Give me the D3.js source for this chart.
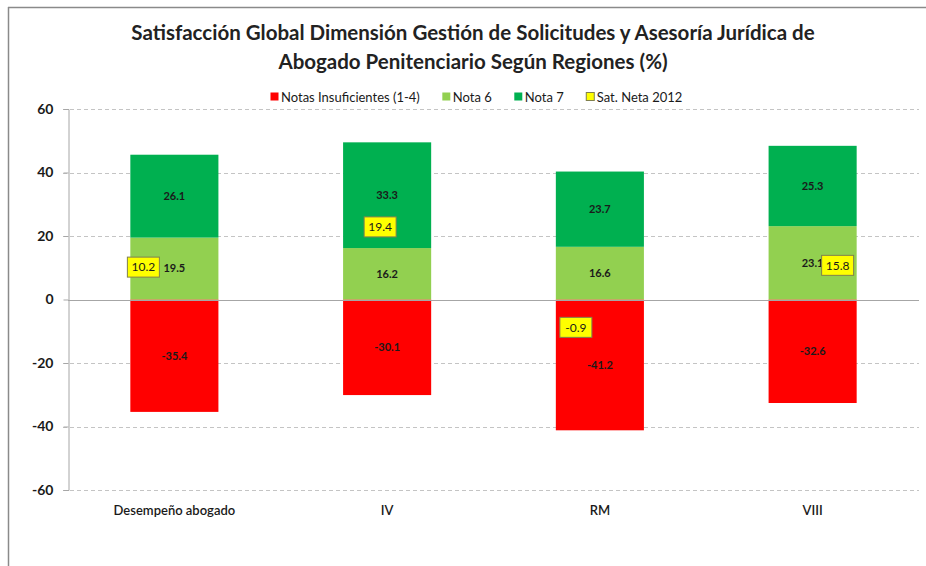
<!DOCTYPE html>
<html lang="es">
<head>
<meta charset="UTF-8">
<title>Satisfacción Global Dimensión Gestión de Solicitudes</title>
<script src="https://d3js.org/d3.v7.min.js"></script>
<style>
    body { margin: 0; background: #fff; }
    svg { display: block; font-family: Lato, "Open Sans", sans-serif; }
    .tick-y { font-size: 14px; font-weight: bold; fill: #1a1a1a; }
    .cat { font-size: 13px; font-weight: 600; fill: #1a1a1a; }
    .val { font-size: 11px; font-weight: bold; fill: #1a1a1a; }
    .legend text { font-size: 13px; fill: #1a1a1a; }
</style>
</head>
<body>
<svg id="chart" width="926" height="566"></svg>
<script>
    // data
    const categories = ["Desempeño abogado", "IV", "RM", "VIII"];
    const insuficientes = [-35.4, -30.1, -41.2, -32.6];
    const nota6 = [19.5, 16.2, 16.6, 23.1];
    const nota7 = [26.1, 33.3, 23.7, 25.3];
    const satNeta = [10.2, 19.4, -0.9, 15.8];
    const yTicks = [-60, -40, -20, 0, 20, 40, 60];

    // where each Sat. Neta label sits relative to its point (labels were moved by hand)
    const labelPlacement = ["left", "upLeft", "downLeft", "right"];
    const placeOffset = {
        left: [-31, 0], upLeft: [-7, -11], downLeft: [-24, 25], right: [25, 16]
    };

    const series = [
        { key: "ins", name: "Notas Insuficientes (1-4)", color: "#ff0000", values: insuficientes },
        { key: "n6", name: "Nota 6", color: "#92d050", values: nota6 },
        { key: "n7", name: "Nota 7", color: "#00b050", values: nota7 }
    ];

    // plain hyphen for negatives, like the original
    const fmt1 = v => d3.format(".1f")(v).replace("\u2212", "-");
    const fmt0 = v => d3.format("d")(v).replace("\u2212", "-");

    const svg = d3.select("#chart");

    // frame lines (top + left only visible)
    svg.append("line").attr("x1", 8).attr("x2", 926).attr("y1", 7.5).attr("y2", 7.5)
        .attr("stroke", "#8a8a8a").attr("stroke-width", 1.5);
    svg.append("line").attr("x1", 8.5).attr("x2", 8.5).attr("y1", 7).attr("y2", 566)
        .attr("stroke", "#8a8a8a").attr("stroke-width", 1.5);

    // title
    const titleLines = [
        "Satisfacción Global Dimensión Gestión de Solicitudes y Asesoría Jurídica de",
        "Abogado Penitenciario Según Regiones (%)"
    ];
    svg.append("g").selectAll("text").data(titleLines).join("text")
        .attr("x", 473).attr("y", (d, i) => 40 + i * 29).attr("text-anchor", "middle")
        .style("font-size", "20.5px").style("font-weight", "bold").attr("fill", "#222")
        .text(d => d);

    const x = d3.scaleBand().domain(categories).range([68, 919]).paddingInner(0.586).paddingOuter(0.293);
    const y = d3.scaleLinear().domain([-60, 60]).range([490, 109]);

    // gridlines
    svg.append("g").selectAll("line").data(yTicks.filter(t => t !== 0)).join("line")
        .attr("x1", 63).attr("x2", 919)
        .attr("y1", d => Math.round(y(d)) + 0.5).attr("y2", d => Math.round(y(d)) + 0.5)
        .attr("stroke", "#c4c4c4").attr("stroke-dasharray", "4,3");

    // y axis
    const yAxis = d3.axisLeft(y).tickValues(yTicks).tickSize(5).tickPadding(10).tickFormat(fmt0);
    const gy = svg.append("g").attr("transform", "translate(68.5,0)").call(yAxis);
    gy.select(".domain").attr("stroke", "#a6a6a6");
    gy.selectAll(".tick line").attr("stroke", "#a6a6a6");
    gy.selectAll(".tick text").attr("class", "tick-y").style("font-family", null).style("font-size", null);
    gy.attr("font-family", null).attr("font-size", null);

    // stacked bars
    const table = categories.map((c, i) => {
        const row = { cat: c };
        series.forEach(s => row[s.key] = s.values[i]);
        return row;
    });
    const stack = d3.stack().keys(series.map(s => s.key)).offset(d3.stackOffsetDiverging);
    const stacked = stack(table);

    const layers = svg.append("g").selectAll("g").data(stacked).join("g")
        .attr("fill", (d, i) => series[i].color);
    layers.selectAll("rect").data(d => d).join("rect")
        .attr("x", d => x(d.data.cat))
        .attr("width", x.bandwidth())
        .attr("y", d => y(Math.max(d[0], d[1])))
        .attr("height", d => Math.abs(y(d[0]) - y(d[1])));

    // zero line
    svg.append("line").attr("x1", 68).attr("x2", 919)
        .attr("y1", Math.round(y(0)) + 0.5).attr("y2", Math.round(y(0)) + 0.5)
        .attr("stroke", "#a6a6a6").attr("stroke-width", 1.2);

    // value labels inside segments
    const vals = svg.append("g");
    stacked.forEach((layer, i) => {
        vals.selectAll(null).data(layer).join("text")
            .attr("class", "val")
            .attr("x", d => x(d.data.cat) + x.bandwidth() / 2)
            .attr("y", d => y((d[0] + d[1]) / 2))
            .attr("dy", "0.35em")
            .attr("text-anchor", "middle")
            .text(d => fmt1(series[i].values[categories.indexOf(d.data.cat)]));
    });

    // Sat. Neta 2012 labels (no marker, only boxed label)
    const sat = svg.append("g").selectAll("g").data(satNeta).join("g")
        .attr("transform", (d, i) => {
            const off = placeOffset[labelPlacement[i]];
            return `translate(${x(categories[i]) + x.bandwidth() / 2 + off[0]},${y(d) + off[1]})`;
        });
    sat.append("rect").attr("x", -16).attr("y", -10).attr("width", 32).attr("height", 20)
        .attr("fill", "#ffff00").attr("stroke", "#80804d").attr("stroke-width", 1);
    sat.append("text").attr("text-anchor", "middle").attr("dy", "0.36em")
        .style("font-size", "12px").attr("fill", "#1a1a1a")
        .text(d => fmt1(d));

    // category labels
    svg.append("g").selectAll("text").data(categories).join("text")
        .attr("class", "cat")
        .attr("x", d => x(d) + x.bandwidth() / 2)
        .attr("y", 515)
        .attr("text-anchor", "middle")
        .text(d => d);

    // legend
    const legendItems = series.map(s => ({ name: s.name, color: s.color, stroke: null }))
        .concat([{ name: "Sat. Neta 2012", color: "#ffff00", stroke: "#80804d" }]);
    const legend = svg.append("g").attr("class", "legend").attr("transform", "translate(270,97)");
    let lx = 0;
    legendItems.forEach(item => {
        const g = legend.append("g").attr("transform", `translate(${lx},0)`);
        g.append("rect").attr("x", 0.5).attr("y", -4.5).attr("width", 8).attr("height", 8)
            .attr("fill", item.color).attr("stroke", item.stroke || "none");
        const t = g.append("text").attr("x", 11).attr("dy", "0.35em").text(item.name);
        lx += 11 + t.node().getComputedTextLength() + 22;
    });
</script>
</body>
</html>
